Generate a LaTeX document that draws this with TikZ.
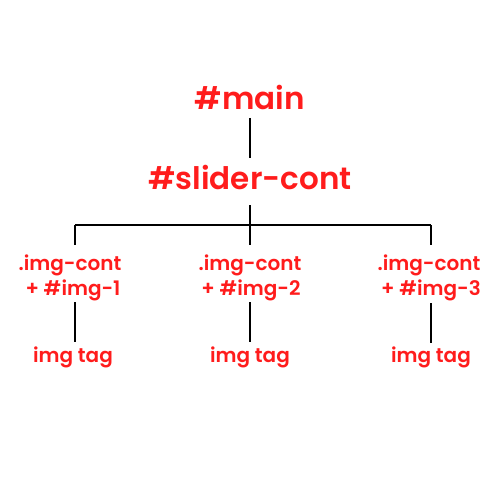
\documentclass[tikz,border=0pt]{standalone}
\usepackage{fontspec}
\setmainfont{Poppins SemiBold}
\usetikzlibrary{calc}
\definecolor{txtred}{RGB}{255,28,28}
\tikzset{
  big/.style={text=txtred, font=\fontsize{31}{31}\selectfont, anchor=base, inner sep=0pt},
  small/.style={text=txtred, font=\fontsize{20}{20}\selectfont, anchor=base, inner sep=0pt},
  link/.style={draw=black, line width=1.8pt}
}
\begin{document}
\begin{tikzpicture}[x=1pt,y=-1pt]
\useasboundingbox (0,0) rectangle (500,500);
\node[big] (main) at (250,110) {\#main};
\node[big] (slider) at (250,189) {\#slider-cont};
\coordinate (bus) at (250,225);
\node[small] (c1a) at (70,270) {.img-cont};
\node[small] (c1b) at (73,295) {+ \#img-1};
\node[small] (t1) at (73,362) {img tag};
\node[small] (c2a) at (250,270) {.img-cont};
\node[small] (c2b) at (251,295) {+ \#img-2};
\node[small] (t2) at (250,362) {img tag};
\node[small] (c3a) at (429,270) {.img-cont};
\node[small] (c3b) at (431,295) {+ \#img-3};
\node[small] (t3) at (431,362) {img tag};
\coordinate (j1) at (75,225);
\coordinate (j3) at (431,225);
\draw[link] ($(main.base)+(0,8)$) -- ($(slider.base)+(0,-31)$);
\draw[link] ($(slider.base)+(0,16)$) -- ($(bus)+(0,20)$);
\draw[link] (j1) -- (j3);
\draw[link] (j1) -- ++(0,20);
\draw[link] (j3) -- ++(0,20);
\draw[link] ($(c1b.base)+(2,7)$) -- ($(t1.base)+(2,-20)$);
\draw[link] ($(c2b.base)+(-1,7)$) -- ($(t2.base)+(0,-20)$);
\draw[link] ($(c3b.base)+(0,8)$) -- ($(t3.base)+(0,-19)$);
\end{tikzpicture}
\end{document}
